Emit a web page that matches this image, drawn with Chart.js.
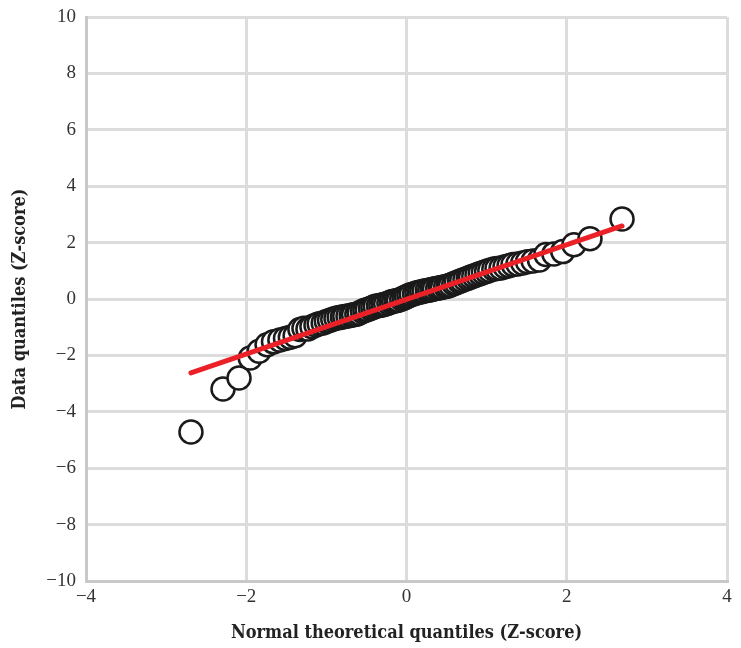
<!DOCTYPE html>
<html>
<head>
<meta charset="utf-8">
<script src="https://cdn.jsdelivr.net/npm/chart.js@4.4.1/dist/chart.umd.min.js"></script>
<style>
    html, body { margin: 0; padding: 0; background: #fff; }
    #wrap { width: 741px; height: 648px; position: relative; }
</style>
</head>
<body>
<div id="wrap"><canvas id="qqChart"></canvas></div>
<script>
// theoretical normal quantiles (x) and observed data quantiles (y)
const theoretical = [
    -2.69, -2.29, -2.09, -1.95, -1.84, -1.74, -1.66, -1.58, -1.51, -1.45,
    -1.39, -1.33, -1.28, -1.23, -1.18, -1.13, -1.09, -1.04, -1.00, -0.96,
    -0.92, -0.88, -0.84, -0.80, -0.77, -0.73, -0.69, -0.66, -0.62, -0.59,
    -0.55, -0.52, -0.49, -0.45, -0.42, -0.39, -0.35, -0.32, -0.29, -0.26,
    -0.22, -0.19, -0.16, -0.13, -0.10, -0.06, -0.03, 0.00, 0.03, 0.06,
    0.10, 0.13, 0.16, 0.19, 0.22, 0.26, 0.29, 0.32, 0.35, 0.39,
    0.42, 0.45, 0.49, 0.52, 0.55, 0.59, 0.62, 0.66, 0.69, 0.73,
    0.77, 0.80, 0.84, 0.88, 0.92, 0.96, 1.00, 1.04, 1.09, 1.13,
    1.18, 1.23, 1.28, 1.33, 1.39, 1.45, 1.51, 1.58, 1.66, 1.74,
    1.84, 1.95, 2.09, 2.29, 2.69
];
const observed = [
    -4.72, -3.19, -2.80, -2.09, -1.85, -1.62, -1.52, -1.45, -1.40, -1.36,
    -1.30, -1.08, -1.04, -1.06, -0.98, -0.92, -0.88, -0.85, -0.80, -0.76,
    -0.72, -0.68, -0.66, -0.64, -0.62, -0.60, -0.58, -0.56, -0.54, -0.50,
    -0.44, -0.40, -0.38, -0.34, -0.30, -0.26, -0.24, -0.22, -0.20, -0.18,
    -0.14, -0.10, -0.08, -0.06, -0.04, 0.00, 0.04, 0.08, 0.12, 0.16,
    0.19, 0.22, 0.24, 0.26, 0.28, 0.30, 0.32, 0.34, 0.36, 0.38,
    0.40, 0.42, 0.44, 0.46, 0.50, 0.54, 0.58, 0.62, 0.66, 0.70,
    0.74, 0.78, 0.82, 0.86, 0.90, 0.94, 0.98, 1.02, 1.06, 1.08,
    1.10, 1.14, 1.18, 1.22, 1.24, 1.28, 1.32, 1.35, 1.38, 1.58,
    1.60, 1.68, 1.92, 2.14, 2.84
];
// reference line end points
const fitX = [-2.69, 2.69];
const fitY = [-2.62, 2.59];

const xTicks = [-4, -2, 0, 2, 4];
const yTicks = [-10, -8, -6, -4, -2, 0, 2, 4, 6, 8, 10];

const tickFont = { family: "'Liberation Serif', 'DejaVu Serif', serif", size: 19 };
const titleFont = { family: "'DejaVu Serif Condensed', 'DejaVu Serif', serif", size: 18, weight: 'bold' };

function minusLabel(v) {
    return v < 0 ? '\u2212' + Math.abs(v) : String(v);
}

document.addEventListener('DOMContentLoaded', () => {
    initializeChart();
});

function initializeChart() {
    const ctx = document.getElementById('qqChart').getContext('2d');
    new Chart(ctx, {
        type: 'scatter',
        data: {
            datasets: [{
                type: 'line',
                data: fitX.map((x, i) => ({ x: x, y: fitY[i] })),
                borderColor: '#ec2127',
                borderWidth: 5,
                borderCapStyle: 'round',
                pointRadius: 0,
                fill: false
            }, {
                data: theoretical.map((x, i) => ({ x: x, y: observed[i] })),
                backgroundColor: '#ffffff',
                borderColor: '#1a1a1a',
                borderWidth: 2.5,
                pointRadius: 11.5,
                pointHoverRadius: 11.5
            }]
        },
        options: {
            responsive: true,
            maintainAspectRatio: false,
            animation: false,
            layout: { padding: { top: 17, right: 6, left: 0, bottom: 0 } },
            plugins: {
                legend: { display: false },
                tooltip: { enabled: false }
            },
            scales: {
                x: {
                    min: -4,
                    max: 4,
                    afterBuildTicks: axis => { axis.ticks = xTicks.map(v => ({ value: v })); },
                    afterFit: axis => {
                        axis.height = 67;
                        axis.paddingLeft = 0;
                        axis.paddingRight = 0;
                    },
                    grid: { color: '#dcdcdc', lineWidth: 3, drawTicks: false },
                    border: { color: '#c8c8c8', width: 3 },
                    ticks: { font: tickFont, color: '#333', padding: 5, callback: minusLabel, maxRotation: 0 },
                    title: { display: true, text: 'Normal theoretical quantiles (Z-score)', font: titleFont, color: '#222', padding: { top: 6 } }
                },
                y: {
                    min: -10,
                    max: 10,
                    afterBuildTicks: axis => { axis.ticks = yTicks.map(v => ({ value: v })); },
                    afterFit: axis => {
                        axis.width = 86;
                        axis.paddingTop = 0;
                        axis.paddingBottom = 0;
                    },
                    grid: { color: '#dcdcdc', lineWidth: 3, drawTicks: false },
                    border: { color: '#c8c8c8', width: 3 },
                    ticks: { font: tickFont, color: '#333', padding: 10, callback: minusLabel },
                    title: { display: true, text: 'Data quantiles (Z-score)', font: titleFont, color: '#222', padding: { top: 10, bottom: 4 } }
                }
            }
        }
    });
}
</script>
</body>
</html>
